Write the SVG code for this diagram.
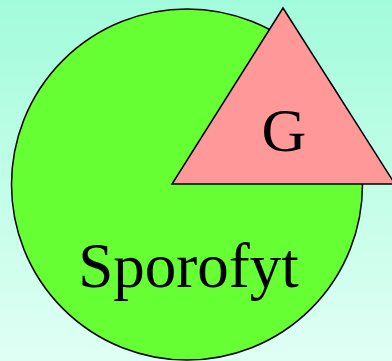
<svg xmlns="http://www.w3.org/2000/svg" width="392" height="361" viewBox="0 0 392 361">
<defs>
<linearGradient id="bg" x1="0" y1="0" x2="0" y2="1">
<stop offset="0" stop-color="#a2fcdb"/>
<stop offset="1" stop-color="#e0fff4"/>
</linearGradient>
</defs>
<style>
.shape{stroke:#000;stroke-width:1.5}
.lbl{font-family:"Liberation Serif","Times New Roman",serif;fill:#000;text-anchor:middle}
</style>
<rect width="392" height="361" fill="url(#bg)"/>
<g id="sporofyt">
<circle class="shape" cx="187" cy="184.5" r="175.5" fill="#66ff33"/>
<text class="lbl" x="188.5" y="287" font-size="63">Sporofyt</text>
</g>
<g id="gametofyt">
<polygon class="shape" points="283,8 172,184 395,184" fill="#ff9999"/>
<text class="lbl" x="284" y="151" font-size="62">G</text>
</g>
<g id="connectors"/>
</svg>
